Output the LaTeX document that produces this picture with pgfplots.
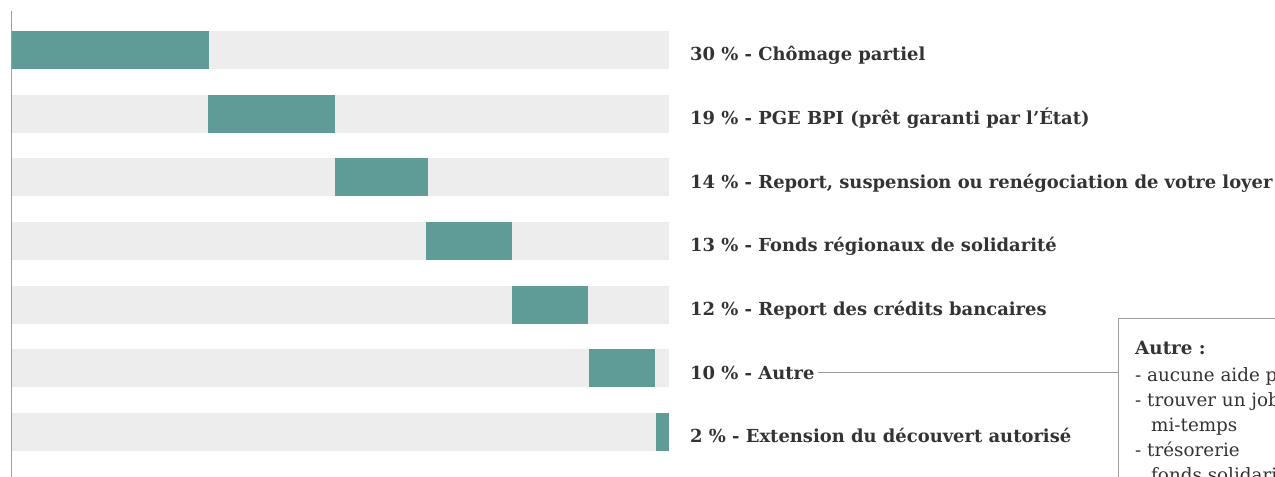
\documentclass[border=0pt]{standalone}
\usepackage{pgfplots}
\pgfplotsset{compat=1.18}
\usepackage{fontspec}
\setmainfont{DejaVu Serif}
\definecolor{barteal}{HTML}{5F9C98}
\definecolor{barbg}{HTML}{EDEDED}
\definecolor{txt}{HTML}{333333}
\definecolor{axgray}{HTML}{9E9E9E}
\tikzset{lab/.style={font=\bfseries\fontsize{18}{21}\selectfont, text=txt, anchor=base west, inner sep=0pt, xshift=21bp, yshift=-10.9bp},
  box/.style={font=\fontsize{18.4}{21}\selectfont, text=txt, anchor=base west, inner sep=0pt}}
\pgfplotstableread[row sep=\\]{
x y\\
0 0\\ 100 0\\ nan nan\\
0 1\\ 100 1\\ nan nan\\
0 2\\ 100 2\\ nan nan\\
0 3\\ 100 3\\ nan nan\\
0 4\\ 100 4\\ nan nan\\
0 5\\ 100 5\\ nan nan\\
0 6\\ 100 6\\
}\bgtable
\pgfplotstableread[row sep=\\]{
x y\\
0 0\\ 30 0\\ nan nan\\
29.9 1\\ 49.2 1\\ nan nan\\
49.2 2\\ 63.3 2\\ nan nan\\
63 3\\ 76.1 3\\ nan nan\\
76.1 4\\ 87.6 4\\ nan nan\\
87.8 5\\ 97.9 5\\ nan nan\\
98 6\\ 100 6\\
}\valtable
\begin{document}
\begin{tikzpicture}[x=1bp,y=1bp]
\clip (0,0) rectangle (1275,477);
\begin{axis}[at={(12bp,0)}, anchor=south west, scale only axis,
  width=657bp, height=477bp, xmin=0, xmax=100, ymin=-0.785, ymax=6.706,
  y dir=reverse, axis lines=none, clip=false, unbounded coords=jump]
\addplot[barbg, line width=38bp, line cap=butt] table[x=x,y=y] {\bgtable};
\addplot[barteal, line width=38bp, line cap=butt] table[x=x,y=y] {\valtable};
\draw[axgray, line width=1.4bp] (axis cs:-0.12,-0.613) -- (axis cs:-0.12,6.72);
\node[lab] at (axis cs:100,0) {30 \% - Chômage partiel};
\node[lab] at (axis cs:100,1) {19 \% - PGE BPI (prêt garanti par l’État)};
\node[lab] at (axis cs:100,2) {14 \% - Report, suspension ou renégociation de votre loyer};
\node[lab] at (axis cs:100,3) {13 \% - Fonds régionaux de solidarité};
\node[lab] at (axis cs:100,4) {12 \% - Report des crédits bancaires};
\node[lab] at (axis cs:100,5) {10 \% - Autre};
\node[lab] at (axis cs:100,6) {2 \% - Extension du découvert autorisé};
\end{axis}
\draw[axgray, line width=0.9bp] (818,105) -- (1118,105);
\draw[axgray, line width=0.9bp, fill=white] (1118,159) rectangle (1320,-20);
\node[box] at (1135,122) {\bfseries Autre :};
\node[box] at (1135,95.3) {- aucune aide pour le moment};
\node[box] at (1135,70.3) {- trouver un job à};
\node[box] at (1151,45.3) {mi-temps};
\node[box] at (1135,20.3) {- trésorerie};
\node[box] at (1151,-4.7) {fonds solidarité};
\end{tikzpicture}
\end{document}
